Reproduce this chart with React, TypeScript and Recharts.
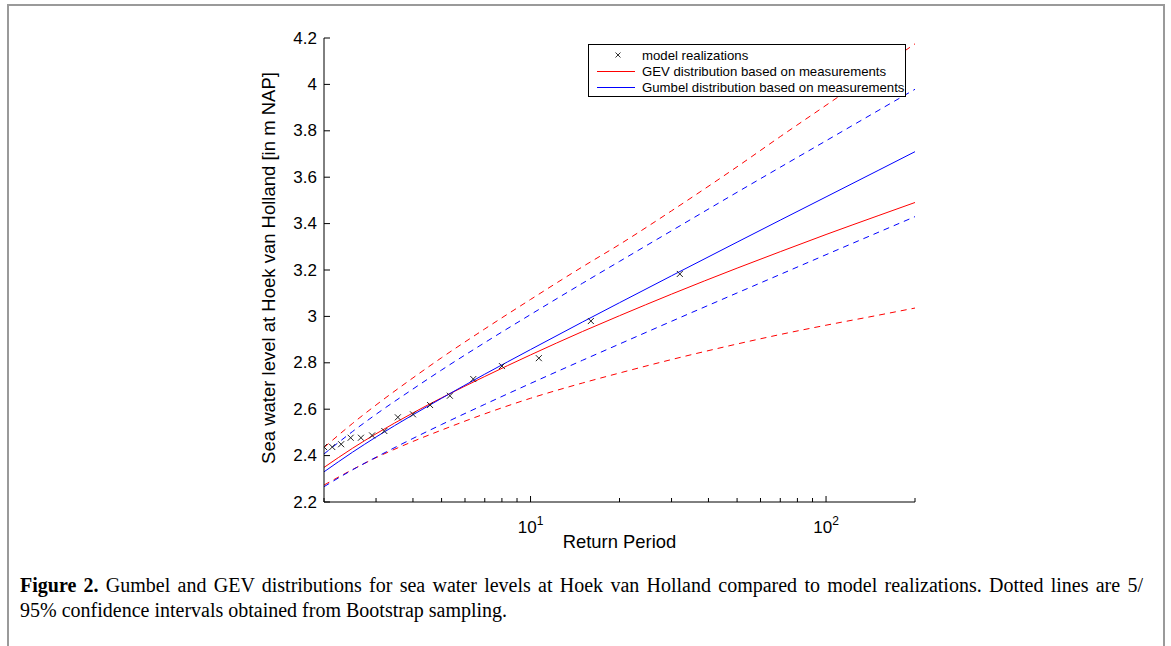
import React from 'react';
import { ComposedChart, Line, Scatter, XAxis, YAxis, Legend } from 'recharts';

// Return periods (years) at which the fitted curves were read
const returnPeriods = [2, 2.5, 3, 4, 5, 7, 10, 15, 20, 30, 50, 70, 100, 150, 200];
// GEV distribution based on measurements (mean, 5% and 95% bounds)
const gevMean = [2.349, 2.432, 2.494, 2.584, 2.649, 2.741, 2.834, 2.935, 3.003, 3.096, 3.208, 3.279, 3.353, 3.434, 3.491];
const gevLower = [2.273, 2.34, 2.391, 2.461, 2.51, 2.58, 2.647, 2.713, 2.756, 2.814, 2.881, 2.922, 2.962, 3.005, 3.036];
const gevUpper = [2.435, 2.539, 2.618, 2.735, 2.822, 2.946, 3.073, 3.214, 3.31, 3.455, 3.645, 3.775, 3.91, 4.065, 4.175];
// Gumbel distribution based on measurements (mean, 5% and 95% bounds)
const gumbelMean = [2.33, 2.415, 2.48, 2.576, 2.647, 2.751, 2.857, 2.976, 3.059, 3.175, 3.32, 3.415, 3.515, 3.629, 3.71];
const gumbelLower = [2.266, 2.339, 2.393, 2.474, 2.534, 2.621, 2.711, 2.811, 2.881, 2.979, 3.101, 3.181, 3.266, 3.362, 3.43];
const gumbelUpper = [2.407, 2.504, 2.578, 2.687, 2.769, 2.887, 3.008, 3.143, 3.237, 3.369, 3.535, 3.643, 3.757, 3.887, 3.979];

// Model realizations
const realizationPeriods = [2, 2.133, 2.286, 2.462, 2.667, 2.909, 3.2, 3.556, 4, 4.571, 5.333, 6.4, 8, 10.667, 16, 32];
const realizationLevels = [2.437, 2.437, 2.449, 2.477, 2.477, 2.487, 2.506, 2.565, 2.578, 2.618, 2.658, 2.73, 2.786, 2.82, 2.98, 3.183];

// Axis ticks
const xTicks = [2, 3, 4, 5, 6, 7, 8, 9, 10, 20, 30, 40, 50, 60, 70, 80, 90, 100, 200];
const xMajorTicks = [10, 100];
const xMajorExponents = ['1', '2'];
const yTicks = [2.2, 2.4, 2.6, 2.8, 3, 3.2, 3.4, 3.6, 3.8, 4, 4.2];
const yTickLabels = ['2.2', '2.4', '2.6', '2.8', '3', '3.2', '3.4', '3.6', '3.8', '4', '4.2'];

const legendLabels = ['model realizations', 'GEV distribution based on measurements', 'Gumbel distribution based on measurements'];

const curveData = returnPeriods.map((T, i) => ({
  T,
  gevMean: gevMean[i],
  gevLower: gevLower[i],
  gevUpper: gevUpper[i],
  gumbelMean: gumbelMean[i],
  gumbelLower: gumbelLower[i],
  gumbelUpper: gumbelUpper[i],
}));

const pointData = realizationPeriods.map((T, i) => ({ T, level: realizationLevels[i] }));

const FONT = '"Liberation Sans", Arial, Helvetica, sans-serif';
const RED = '#ff0000';
const BLUE = '#0000ff';

const XTick = (props: any) => {
  const { x, y, payload } = props;
  const idx = xMajorTicks.indexOf(payload.value);
  const major = idx >= 0;
  return (
    <g>
      <line x1={x} x2={x} y1={y} y2={y - (major ? 6 : 4)} stroke="#000" strokeWidth={1} />
      {major && (
        <text x={x} y={y + 31} textAnchor="middle" fontFamily={FONT} fontSize={17} fill="#000">
          <tspan>10</tspan>
          <tspan dy={-8} fontSize={12}>{xMajorExponents[idx]}</tspan>
        </text>
      )}
    </g>
  );
};

const YTick = (props: any) => {
  const { x, y, payload } = props;
  const idx = yTicks.findIndex((v) => Math.abs(v - payload.value) < 1e-6);
  return (
    <g>
      <line x1={x} x2={x + 6} y1={y} y2={y} stroke="#000" strokeWidth={1} />
      <text x={x - 7} y={y} textAnchor="end" dominantBaseline="central" fontFamily={FONT} fontSize={17} fill="#000">
        {idx >= 0 ? yTickLabels[idx] : ''}
      </text>
    </g>
  );
};

const Cross = (props: any) => {
  const { cx, cy } = props;
  if (cx == null || cy == null) return null;
  const s = 3;
  return (
    <path
      d={`M${cx - s},${cy - s}L${cx + s},${cy + s}M${cx - s},${cy + s}L${cx + s},${cy - s}`}
      stroke="#222"
      strokeWidth={1}
      fill="none"
    />
  );
};

const LegendBox = () => (
  <svg width={318} height={53} style={{ display: 'block' }}>
    <rect x={0.5} y={0.5} width={317} height={52} fill="#fff" stroke="#000" strokeWidth={1} />
    <path d="M27.5,8.5L32.5,13.5M27.5,13.5L32.5,8.5" stroke="#333" strokeWidth={1} />
    <text x={54} y={11} dominantBaseline="central" fontFamily={FONT} fontSize={13.2} fill="#000">{legendLabels[0]}</text>
    <line x1={9} x2={47} y1={27.5} y2={27.5} stroke={RED} strokeWidth={1} />
    <text x={54} y={27.5} dominantBaseline="central" fontFamily={FONT} fontSize={13.2} fill="#000">{legendLabels[1]}</text>
    <line x1={9} x2={47} y1={43.5} y2={43.5} stroke={BLUE} strokeWidth={1} />
    <text x={54} y={43.5} dominantBaseline="central" fontFamily={FONT} fontSize={13.2} fill="#000">{legendLabels[2]}</text>
  </svg>
);

export default function App() {
  return (
    <div style={{ position: 'fixed', left: 0, top: 0, width: 1171, height: 646, background: '#fff', overflow: 'hidden' }}>
      <svg width={1171} height={646} style={{ position: 'absolute', left: 0, top: 0 }}>
        <path d="M8,700L8,5L1164,5L1164,700" fill="none" stroke="#9a9a9a" strokeWidth={2} />
      </svg>
      <div style={{ position: 'absolute', left: 0, top: 0 }}>
        <ComposedChart
          width={1171}
          height={646}
          data={curveData}
          margin={{ top: 38, right: 256, bottom: 84, left: 254 }}
        >
          <XAxis
            dataKey="T"
            type="number"
            scale="log"
            domain={[2, 200]}
            allowDataOverflow
            ticks={xTicks}
            interval={0}
            height={60}
            tickSize={0}
            tickMargin={0}
            tickLine={false}
            tick={<XTick />}
            axisLine={{ stroke: '#000', strokeWidth: 1 }}
            label={{ value: 'Return Period', position: 'insideBottom', offset: 14, fill: '#000', fontSize: 18.4, fontFamily: FONT }}
          />
          <YAxis
            type="number"
            domain={[2.2, 4.2]}
            allowDataOverflow
            ticks={yTicks}
            interval={0}
            width={70}
            tickSize={0}
            tickMargin={0}
            tickLine={false}
            tick={<YTick />}
            axisLine={{ stroke: '#000', strokeWidth: 1 }}
            label={{
              content: () => (
                <text
                  x={275}
                  y={268}
                  transform="rotate(-90 275 268)"
                  textAnchor="middle"
                  fontFamily={FONT}
                  fontSize={18.5}
                  fill="#000"
                >
                  Sea water level at Hoek van Holland [in m NAP]
                </text>
              ),
            }}
          />
          <Legend
            layout="vertical"
            align="center"
            verticalAlign="middle"
            content={() => <LegendBox />}
            wrapperStyle={{ position: 'absolute', left: 588, top: 44, width: 318, height: 53 }}
          />
          <Line dataKey="gevUpper" type="monotone" stroke={RED} strokeWidth={1} strokeDasharray="6 5" dot={false} activeDot={false} isAnimationActive={false} legendType="none" />
          <Line dataKey="gevLower" type="monotone" stroke={RED} strokeWidth={1} strokeDasharray="6 5" dot={false} activeDot={false} isAnimationActive={false} legendType="none" />
          <Line dataKey="gevMean" type="monotone" stroke={RED} strokeWidth={1} dot={false} activeDot={false} isAnimationActive={false} name={legendLabels[1]} />
          <Line dataKey="gumbelUpper" type="monotone" stroke={BLUE} strokeWidth={1} strokeDasharray="6 5" dot={false} activeDot={false} isAnimationActive={false} legendType="none" />
          <Line dataKey="gumbelLower" type="monotone" stroke={BLUE} strokeWidth={1} strokeDasharray="6 5" dot={false} activeDot={false} isAnimationActive={false} legendType="none" />
          <Line dataKey="gumbelMean" type="monotone" stroke={BLUE} strokeWidth={1} dot={false} activeDot={false} isAnimationActive={false} name={legendLabels[2]} />
          <Scatter data={pointData} dataKey="level" shape={<Cross />} isAnimationActive={false} name={legendLabels[0]} />
        </ComposedChart>
      </div>
      <div
        style={{
          position: 'absolute',
          left: 20,
          top: 573,
          width: 1123,
          fontFamily: '"Liberation Serif", "Times New Roman", serif',
          fontSize: 20,
          lineHeight: '25px',
          color: '#000',
        }}
      >
        <div style={{ textAlign: 'justify', textAlignLast: 'justify', whiteSpace: 'nowrap' }}>
          <b>Figure 2.</b> Gumbel and GEV distributions for sea water levels at Hoek van Holland compared to model realizations. Dotted lines are 5/
        </div>
        <div style={{ whiteSpace: 'nowrap' }}>95% confidence intervals obtained from Bootstrap sampling.</div>
      </div>
    </div>
  );
}
